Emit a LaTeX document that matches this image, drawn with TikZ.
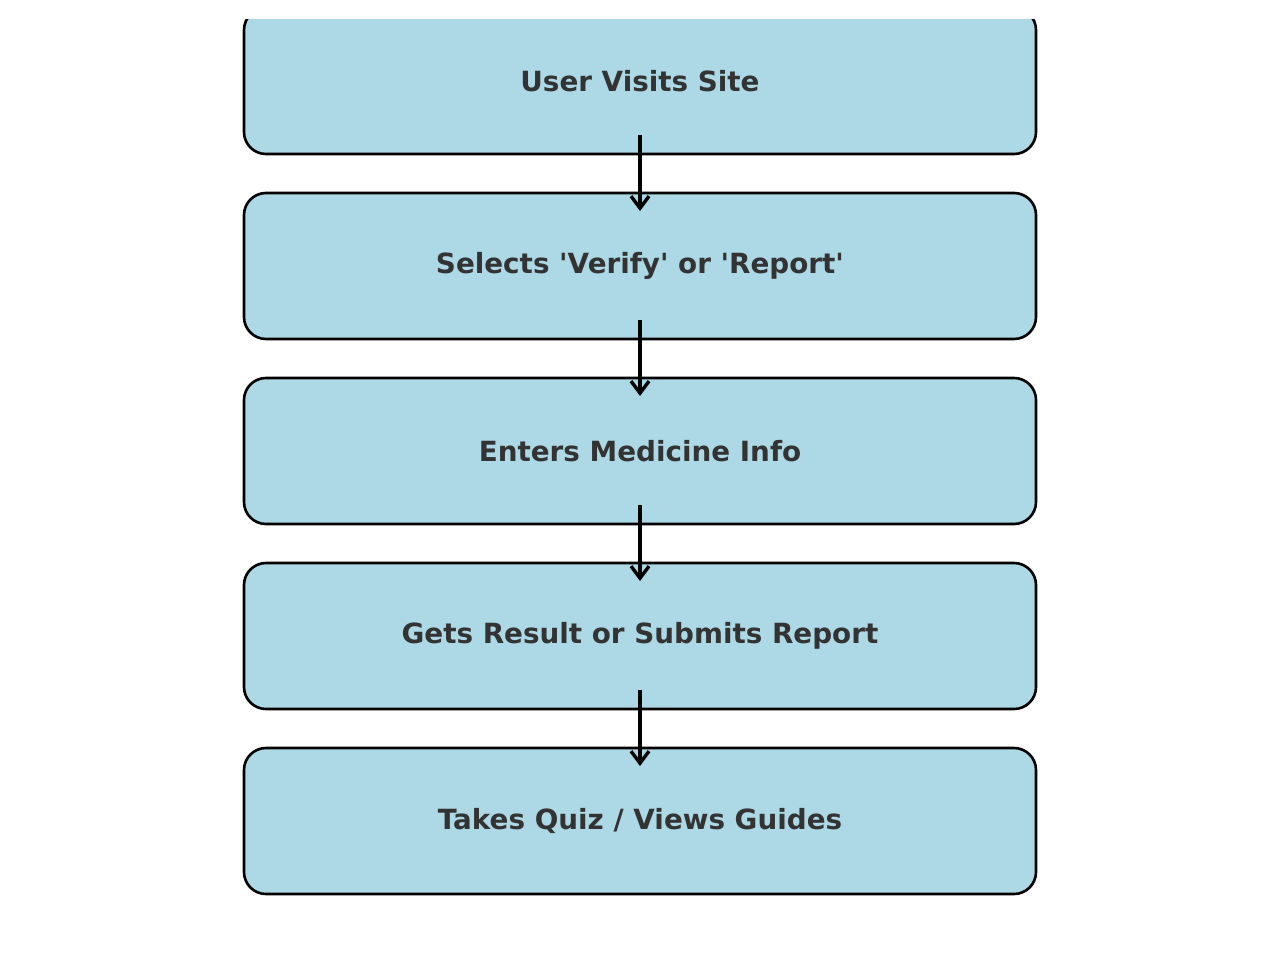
\documentclass[tikz,border=0pt]{standalone}
\usepackage{fontspec}
\setmainfont{DejaVu Sans}
\usetikzlibrary{calc,arrows.meta}
\definecolor{boxfill}{HTML}{ADD8E6}
\definecolor{boxtext}{HTML}{333333}
\tikzset{
  stepbox/.style={draw=black, line width=2.6pt, fill=boxfill, rounded corners=22pt,
    minimum width=792pt, minimum height=146pt, inner sep=0pt,
    font=\fontsize{27.8}{32}\selectfont\bfseries, text=boxtext},
  flow/.style={line width=3.4pt, -{Straight Barb[length=12pt,width=18pt,line width=3.4pt]}}
}
\begin{document}
\begin{tikzpicture}[x=1pt,y=1pt]
\useasboundingbox (0,0) rectangle (1280,-964);
\begin{scope}
  \clip (0,-19) rectangle (1280,-964);
  \node[stepbox] (s1) at (640,-81)  {User Visits Site};
  \node[stepbox] (s2) at (640,-266) {Selects \textquotesingle Verify\textquotesingle{} or \textquotesingle Report\textquotesingle};
  \node[stepbox] (s3) at (640,-451) {Enters Medicine Info};
  \node[stepbox] (s4) at (640,-636) {Gets Result or Submits Report};
  \node[stepbox] (s5) at (640,-821) {Takes Quiz / Views Guides};
\end{scope}
\foreach \a/\b in {s1/s2,s2/s3,s3/s4,s4/s5}
  \draw[flow] ($(\a.center)+(0,-54)$) -- ($(\b.center)+(0,55)$);
\end{tikzpicture}
\end{document}
